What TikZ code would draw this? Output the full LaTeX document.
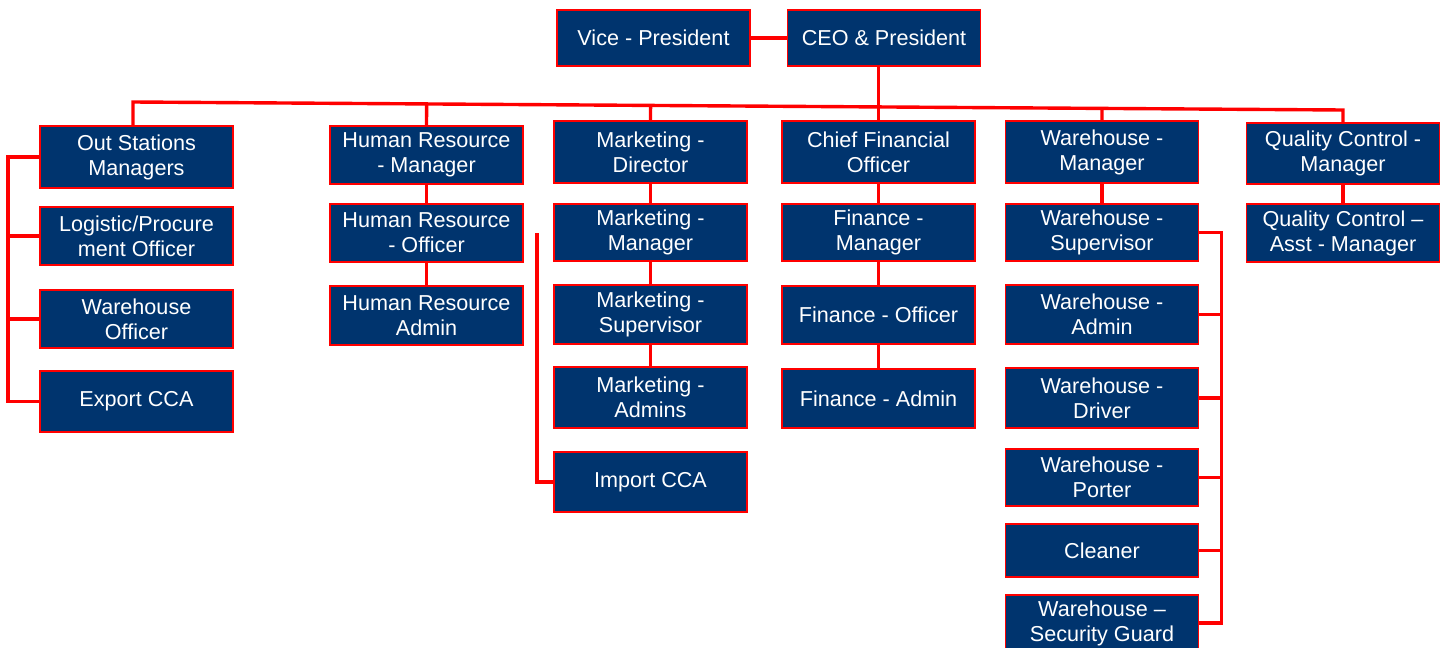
\documentclass[tikz,border=0pt]{standalone}
\usepackage{fontspec}
\setmainfont{Liberation Sans}
\usetikzlibrary{calc}
\definecolor{boxblue}{RGB}{0,52,110}
\definecolor{linered}{RGB}{255,0,0}

\begin{document}
\begin{tikzpicture}[x=0.5pt,y=-0.5pt,
  post/.style={draw=linered, line width=0.9pt, fill=boxblue, text=white,
    minimum width=96.5pt, align=center, inner sep=0pt,
    font=\fontsize{10.8}{12.5}\selectfont},
  link/.style={draw=linered, line width=1.7pt}]
\useasboundingbox (0,0) rectangle (1446,648);

% top
\node [post, minimum height=28pt] (vp) at (653.5,38) {Vice - President};
\node [post, minimum height=28pt] (ceo) at (884,38) {CEO \& President};

% out stations
\node [post, minimum height=31pt] (osm) at (136.5,157) {Out Stations\\Managers};
\node [post, minimum height=29pt] (lpo) at (136.5,236) {Logistic/Procure\\ment Officer};
\node [post, minimum height=29pt] (who) at (136.5,319) {Warehouse\\Officer};
\node [post, minimum height=30.5pt] (exp) at (136.5,401.5) {Export CCA};

% human resource
\node [post, minimum height=29pt] (hrm) at (426.5,155) {Human Resource\\- Manager};
\node [post, minimum height=29pt] (hro) at (426.5,233) {Human Resource\\- Officer};
\node [post, minimum height=29.5pt] (hra) at (426.5,315.5) {Human Resource\\Admin};

% marketing
\node [post, minimum height=31pt] (mkd) at (650.5,152) {Marketing -\\Director};
\node [post, minimum height=28.5pt] (mkm) at (650.5,232.5) {Marketing -\\Manager};
\node [post, minimum height=29.5pt] (mks) at (650.5,314.5) {Marketing -\\Supervisor};
\node [post, minimum height=30.5pt] (mka) at (650.5,397.5) {Marketing -\\Admins};
\node [post, minimum height=30pt] (imp) at (650.5,482) {Import CCA};

% finance
\node [post, minimum height=31pt] (cfo) at (878.5,152) {Chief Financial\\Officer};
\node [post, minimum height=28.5pt] (fnm) at (878.5,232.5) {Finance -\\Manager};
\node [post, minimum height=29pt] (fno) at (878.5,315) {Finance - Officer};
\node [post, minimum height=29.5pt] (fna) at (878.5,398.5) {Finance - Admin};

% warehouse
\node [post, minimum height=31pt] (whm) at (1102,152) {Warehouse -\\Manager};
\node [post, minimum height=28.5pt] (whs) at (1102,232.5) {Warehouse -\\Supervisor};
\node [post, minimum height=29.5pt] (wha) at (1102,314.5) {Warehouse -\\Admin};
\node [post, minimum height=30pt] (whd) at (1102,398) {Warehouse -\\Driver};
\node [post, minimum height=28.5pt] (whp) at (1102,477.5) {Warehouse -\\Porter};
\node [post, minimum height=26.5pt] (cln) at (1102,550.5) {Cleaner};
\node [post, minimum height=28pt] (whg) at (1102,623) {Warehouse --\\Security Guard};

% quality control
\node [post, minimum height=30.5pt] (qcm) at (1343,153.5) {Quality Control -\\Manager};
\node [post, minimum height=29pt] (qca) at (1343,233) {Quality Control --\\Asst - Manager};

% links
\draw [link] (vp.east) -- (ceo.west);
\draw [link] (ceo.south -| cfo.north) -- (cfo.north);
\coordinate (busL) at (133,102);
\coordinate (busR) at (1343,110);
\draw [link] (busL |- osm.north) -- (busL) -- (busR) -- (qcm.north);
\foreach \n in {hrm,mkd,whm}
  \draw [link] ($(busL)!(\n.north)!(busR)$) -- (\n.north);

\foreach \a/\b in {hrm/hro,hro/hra,mkd/mkm,mkm/mks,mks/mka,cfo/fnm,fnm/fno,fno/fna,whm/whs,qcm/qca}
  \draw [link] (\a.south) -- (\b.north);

\draw [link] (osm.west) -- ++(-31,0) coordinate (l1) -- (l1 |- exp.west) -- (exp.west);
\foreach \n in {lpo,who}
  \draw [link] (\n.west) -- (\n.west -| l1);

\coordinate (imtop) at (537,233);
\draw [link] (imtop) |- (imp.west);

\draw [link] (whs.east) -- ++(22,0) coordinate (r1) -- (r1 |- whg.east) -- (whg.east);
\foreach \n in {wha,whd,whp,cln}
  \draw [link] (\n.east) -- (\n.east -| r1);

\end{tikzpicture}
\end{document}
